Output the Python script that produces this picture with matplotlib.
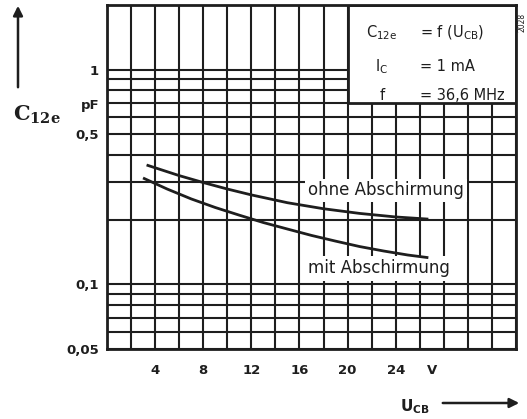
import matplotlib.pyplot as plt
from matplotlib.patches import Rectangle

plt.rcParams['mathtext.default'] = 'regular'

# C12e (pF) over U_CB (V)
u_ohne = [3.4, 6, 8, 10, 12, 15, 18, 21, 24, 26.6]
c_ohne = [0.358, 0.321, 0.298, 0.278, 0.261, 0.240, 0.225, 0.214, 0.206, 0.2015]
u_mit = [3.1, 5, 7, 9, 11, 13, 15, 17, 19, 21, 23, 25, 26.6]
c_mit = [0.311, 0.278, 0.250, 0.228, 0.210, 0.194, 0.181, 0.169, 0.159,
         0.150, 0.143, 0.137, 0.1334]

x_grid = list(range(0, 35, 2))
x_labeled = [4, 8, 12, 16, 20, 24]
y_grid = [0.05, 0.06, 0.07, 0.08, 0.09, 0.1, 0.2, 0.3, 0.4, 0.5,
          0.6, 0.7, 0.8, 0.9, 1]
y_labeled = {0.05: '0,05', 0.1: '0,1', 0.5: '0,5', 1: '1'}

ink = '#1e1e1e'
W, H = 527, 419

fig = plt.figure(figsize=(W / 100, H / 100), dpi=100)
ax = fig.add_axes([107 / W, 1 - 349 / H, 409 / W, 344 / H])
ax.set_yscale('log')
ax.set_xlim(0, 34)
ax.set_ylim(0.05, 2)

ax.set_xticks(x_grid)
ax.set_xticklabels([str(v) if v in x_labeled else '' for v in x_grid])
ax.set_yticks(y_grid)
ax.set_yticklabels([y_labeled.get(v, '') for v in y_grid])
ax.minorticks_off()
ax.tick_params(length=0, labelsize=9.5, colors=ink)
ax.tick_params(axis='x', pad=11)
ax.tick_params(axis='y', pad=6)
for lab in ax.get_xticklabels() + ax.get_yticklabels():
    lab.set_fontweight('bold')
ax.grid(True, color=ink, lw=1.5, zorder=0)
ax.set_axisbelow(True)
for sp in ax.spines.values():
    sp.set_linewidth(2)
    sp.set_color(ink)

ax.plot(u_ohne, c_ohne, color=ink, lw=2, zorder=3)
ax.plot(u_mit, c_mit, color=ink, lw=2, zorder=3)

ax.text(16.7, 0.274, 'ohne Abschirmung', fontsize=12, color=ink, va='center',
        ha='left', zorder=2,
        bbox=dict(facecolor='white', edgecolor='none', pad=2))
ax.text(16.7, 0.119, 'mit Abschirmung', fontsize=12, color=ink, va='center',
        ha='left', zorder=2,
        bbox=dict(facecolor='white', edgecolor='none', pad=2.5))

# condition box in the upper right corner
ax.add_patch(Rectangle((20, 0.7), 14, 1.3, facecolor='white', edgecolor=ink,
                       lw=2, zorder=2))
box_rows = [(0.919, 'C$_{12e}$', '= f (U$_{CB}$)'),
            (0.820, 'I$_C$', '= 1 mA'),
            (0.738, 'f', '= 36,6 MHz')]
for yy, left, right in box_rows:
    ax.text(0.672, yy, left, transform=ax.transAxes, fontsize=10.5, color=ink,
            ha='center', va='center', zorder=4)
    ax.text(0.765, yy, right, transform=ax.transAxes, fontsize=10.5, color=ink,
            ha='left', va='center', zorder=4)

ax.text(27, -0.062, 'V', transform=ax.get_xaxis_transform(), fontsize=9.5,
        fontweight='bold', color=ink, ha='center', va='center')
fig.text(90 / W, 1 - 106 / H, 'pF', fontsize=9.5, fontweight='bold', color=ink,
         ha='center', va='center')

# axis quantities with arrows
fig.text(13 / W, 1 - 115 / H, 'C$_{12e}$', fontsize=15, fontweight='bold',
         family='DejaVu Serif', color=ink, ha='left', va='center')
ax.annotate('', xy=(18 / W, 1 - 3 / H), xytext=(18 / W, 1 - 90 / H),
            xycoords='figure fraction',
            arrowprops=dict(arrowstyle='-|>', color=ink, lw=1.8,
                            mutation_scale=14))
fig.text(400 / W, 1 - 407 / H, 'U$_{CB}$', fontsize=11, fontweight='bold',
         color=ink, ha='left', va='center')
ax.annotate('', xy=(522 / W, 1 - 403 / H), xytext=(440 / W, 1 - 403 / H),
            xycoords='figure fraction',
            arrowprops=dict(arrowstyle='-|>', color=ink, lw=1.8,
                            mutation_scale=14))
fig.text(522 / W, 1 - 22 / H, '2028', fontsize=5.5, rotation=90, color=ink,
         ha='center', va='center')

fig.savefig('out.png', dpi=100)
